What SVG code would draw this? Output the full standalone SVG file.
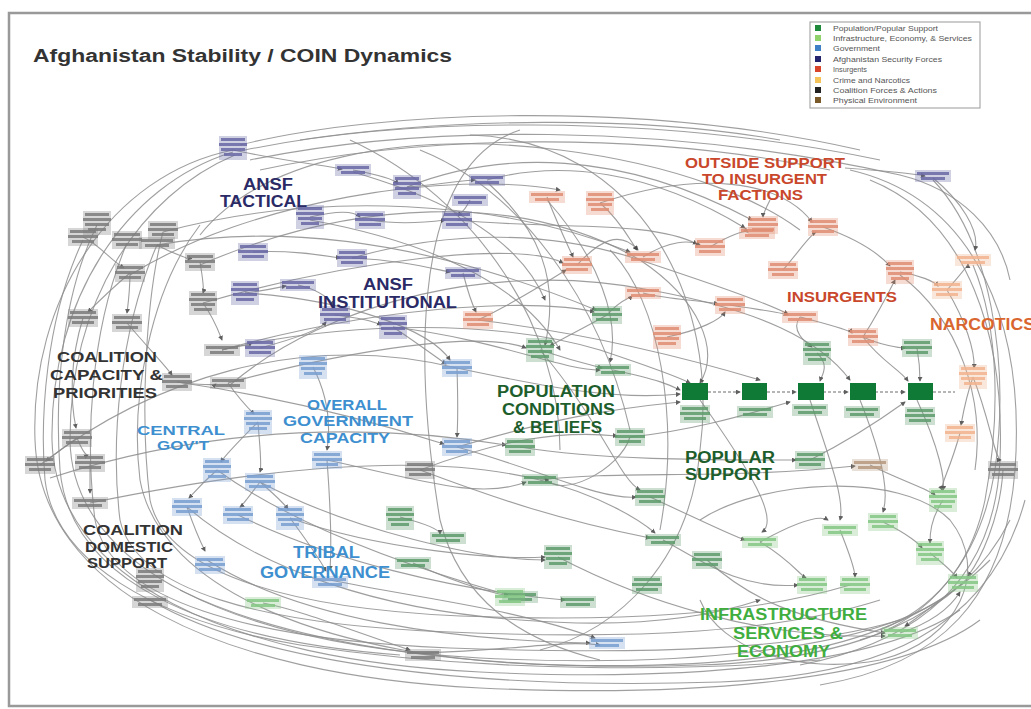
<svg xmlns="http://www.w3.org/2000/svg" xmlns:xlink="http://www.w3.org/1999/xlink" width="1031" height="709" viewBox="0 0 1031 709">
<style>
.lbl{font-family:"Liberation Sans",Arial,sans-serif;font-weight:bold}
.c path{fill:none;stroke:#8e8e8e;stroke-width:1.1;opacity:.85}
.c .d{stroke-dasharray:3 2;stroke:#555}
.co{fill:#7d7d7d}.an{fill:#6a6aa6}.gv{fill:#7a9fd0}.in{fill:#e08f74}.na{fill:#f2b48e}
.po{fill:#5f9c6c}.if{fill:#86c886}.ph{fill:#b89a80}.pb{fill:#0f7a36}
.node{opacity:.9}
.leg{font-family:"Liberation Sans",Arial,sans-serif;font-size:7px}
</style>
<defs>
<marker id="ah" viewBox="0 0 6 6" refX="5" refY="3" markerWidth="5" markerHeight="5" orient="auto" markerUnits="userSpaceOnUse"><path d="M0,0 L6,3 L0,6 z" fill="#444"/></marker>
<g id="b3"><rect x="-15" y="-9" width="30" height="18" opacity=".35"/><rect x="-13" y="-7" width="26" height="3"/><rect x="-15" y="-2" width="30" height="3"/><rect x="-11" y="3" width="22" height="3"/></g>
<g id="b2"><rect x="-18" y="-6" width="36" height="12" opacity=".35"/><rect x="-16" y="-4" width="32" height="3"/><rect x="-12" y="1" width="24" height="3"/></g>
<g id="b4"><rect x="-14" y="-12" width="28" height="24" opacity=".35"/><rect x="-12" y="-10" width="24" height="3"/><rect x="-14" y="-5" width="28" height="3"/><rect x="-12" y="0" width="24" height="3"/><rect x="-9" y="5" width="18" height="3"/></g>
</defs>
<rect width="1031" height="709" fill="#fff"/>
<rect x="9" y="13" width="1030" height="693" fill="none" stroke="#999" stroke-width="2.5"/>
<text class="lbl" x="33" y="62" font-size="18" textLength="419" lengthAdjust="spacingAndGlyphs" fill="#333">Afghanistan Stability / COIN Dynamics</text>

<g id="legend">
<rect x="810" y="22" width="170" height="86" fill="#fff" stroke="#aaa" stroke-width="1.2"/>
<g class="leg" fill="#555">
<text x="833" y="31" textLength="105" lengthAdjust="spacingAndGlyphs">Population/Popular Support</text>
<text x="833" y="41" textLength="139" lengthAdjust="spacingAndGlyphs">Infrastructure, Economy, &amp; Services</text>
<text x="833" y="51" textLength="47" lengthAdjust="spacingAndGlyphs">Government</text>
<text x="833" y="62" textLength="109" lengthAdjust="spacingAndGlyphs">Afghanistan Security Forces</text>
<text x="833" y="72" textLength="34" lengthAdjust="spacingAndGlyphs">Insurgents</text>
<text x="833" y="83" textLength="77" lengthAdjust="spacingAndGlyphs">Crime and Narcotics</text>
<text x="833" y="93" textLength="104" lengthAdjust="spacingAndGlyphs">Coalition Forces &amp; Actions</text>
<text x="833" y="103" textLength="84" lengthAdjust="spacingAndGlyphs">Physical Environment</text>
</g>
<rect x="815" y="25" width="6" height="6" fill="#1f8a3c"/>
<rect x="815" y="35" width="6" height="6" fill="#8fd16a"/>
<rect x="815" y="45" width="6" height="6" fill="#3f7fc6"/>
<rect x="815" y="56" width="6" height="6" fill="#23236e"/>
<rect x="815" y="66" width="6" height="6" fill="#d8452a"/>
<rect x="815" y="77" width="6" height="6" fill="#f4c35a"/>
<rect x="815" y="87" width="6" height="6" fill="#222"/>
<rect x="815" y="97" width="6" height="6" fill="#7a5a2a"/>
</g>

<g id="connectors" class="c">
<path d="M233,150 C110,175 30,300 35,440 C40,590 220,675 480,688 C700,698 900,680 980,620"/>
<path d="M233,152 C125,185 50,300 52,440 C55,580 230,660 480,672 C690,682 880,665 960,610"/>
<path d="M235,155 C140,195 70,300 70,440 C72,570 240,645 480,658 C680,668 860,650 940,600"/>
<path d="M97,225 C60,300 55,400 60,470 C70,580 200,640 400,655"/>
<path d="M83,240 C45,320 40,420 45,480 C55,560 150,620 300,645 C500,675 700,670 820,660"/>
<path d="M127,243 C90,330 85,440 95,520 C110,600 250,640 450,648 C650,655 800,650 900,620"/>
<path d="M157,245 C120,330 110,440 120,520 C135,590 260,625 450,632 C640,640 780,632 880,600"/>
<path d="M163,232 C145,300 140,420 150,500 C165,570 280,608 460,616 C620,622 750,615 850,585"/>
<path d="M200,225 C150,290 130,400 140,480 C160,590 330,660 560,665 C760,670 900,650 990,560"/>
<path d="M240,145 C380,110 640,100 860,150"/>
<path d="M245,150 C400,118 650,112 880,160"/>
<path d="M250,160 C420,125 660,122 900,175 C960,190 1000,230 1010,280"/>
<path d="M260,170 C420,135 640,130 830,170"/>
<path d="M300,140 C450,118 640,115 780,140"/>
<path d="M200,235 C260,160 400,130 560,150 C680,165 760,200 800,230"/>
<path d="M850,170 C980,200 1025,330 1015,470 C1005,600 940,665 820,685"/>
<path d="M870,180 C970,220 1005,340 1000,460 C995,570 930,640 800,665"/>
<path d="M933,180 C990,240 1010,360 995,470 C980,560 930,620 860,640"/>
<path d="M973,265 C1000,330 1000,420 985,500 C970,570 930,610 880,630"/>
<path d="M900,275 C960,320 985,400 975,470"/>
<path d="M470,135 C640,140 720,300 700,450 C690,560 620,630 540,650"/>
<path d="M520,130 C400,170 420,400 440,520 C460,600 520,640 600,660"/>
<path d="M700,520 C760,480 900,470 950,520 C990,570 960,640 880,660 C800,675 720,650 700,600"/>
<path d="M230,385 C330,300 500,260 650,290 C760,310 820,340 850,380" marker-end="url(#ah)"/>
<path d="M200,265 C350,200 520,190 640,260 C700,300 720,350 700,383" marker-end="url(#ah)"/>
<path d="M130,275 C250,200 450,170 560,190" marker-end="url(#ah)"/>
<path d="M222,350 C350,320 500,320 600,350 C660,370 680,378 690,383" marker-end="url(#ah)"/>
<path d="M310,220 C420,240 520,280 560,350" marker-end="url(#ah)"/>
<path d="M353,172 C450,200 520,240 545,300" marker-end="url(#ah)"/>
<path d="M487,182 C540,230 560,280 545,345" marker-end="url(#ah)"/>
<path d="M547,200 C600,260 620,320 610,362" marker-end="url(#ah)"/>
<path d="M217,470 C300,530 420,570 508,595" marker-end="url(#ah)"/>
<path d="M187,507 C260,570 380,610 520,620 C620,628 700,620 760,600" marker-end="url(#ah)"/>
<path d="M238,515 C330,560 450,590 565,600" marker-end="url(#ah)"/>
<path d="M290,518 C380,550 500,560 545,557" marker-end="url(#ah)"/>
<path d="M330,580 C430,600 520,610 595,638" marker-end="url(#ah)"/>
<path d="M207,560 C300,620 450,640 590,643" marker-end="url(#ah)"/>
<path d="M420,470 C500,500 560,520 650,538" marker-end="url(#ah)"/>
<path d="M457,447 C540,470 600,500 636,497" marker-end="url(#ah)"/>
<path d="M327,460 C420,480 480,500 526,482" marker-end="url(#ah)"/>
<path d="M260,482 C350,530 480,560 545,560" marker-end="url(#ah)"/>
<path d="M700,400 C750,470 780,520 762,532" marker-end="url(#ah)"/>
<path d="M810,400 C830,460 845,500 840,520" marker-end="url(#ah)"/>
<path d="M860,400 C880,450 890,490 883,512" marker-end="url(#ah)"/>
<path d="M917,400 C940,450 945,480 943,490" marker-end="url(#ah)"/>
<path d="M650,497 C700,520 730,535 745,540" marker-end="url(#ah)"/>
<path d="M760,542 C790,560 800,575 806,578" marker-end="url(#ah)"/>
<path d="M840,530 C850,555 855,570 855,577" marker-end="url(#ah)"/>
<path d="M883,522 C910,535 920,545 922,548" marker-end="url(#ah)"/>
<path d="M930,553 C945,565 955,575 957,578" marker-end="url(#ah)"/>
<path d="M663,540 C700,560 740,590 798,585" marker-end="url(#ah)"/>
<path d="M707,560 C750,600 800,620 885,633" marker-end="url(#ah)"/>
<path d="M558,557 C640,600 760,640 885,636" marker-end="url(#ah)"/>
<path d="M540,350 C600,420 620,480 640,490" marker-end="url(#ah)"/>
<path d="M613,370 C660,380 670,385 680,390" marker-end="url(#ah)"/>
<path d="M577,265 C600,240 620,230 638,250" marker-end="url(#ah)"/>
<path d="M643,257 C670,240 690,240 700,245" marker-end="url(#ah)"/>
<path d="M710,247 C730,235 745,230 748,232" marker-end="url(#ah)"/>
<path d="M643,293 C670,300 700,300 718,304" marker-end="url(#ah)"/>
<path d="M730,305 C760,310 780,312 788,315" marker-end="url(#ah)"/>
<path d="M800,317 C830,325 850,330 852,333" marker-end="url(#ah)"/>
<path d="M783,270 C800,250 810,235 816,232" marker-end="url(#ah)"/>
<path d="M667,337 C700,330 720,320 725,312" marker-end="url(#ah)"/>
<path d="M863,337 C880,310 890,290 895,280" marker-end="url(#ah)"/>
<path d="M900,272 C920,275 935,282 938,286" marker-end="url(#ah)"/>
<path d="M947,290 C960,275 968,265 968,264" marker-end="url(#ah)"/>
<path d="M600,203 C620,220 630,240 637,250" marker-end="url(#ah)"/>
<path d="M547,197 C560,230 570,250 573,257" marker-end="url(#ah)"/>
<path d="M478,320 C520,300 550,280 566,270" marker-end="url(#ah)"/>
<path d="M607,315 C620,300 630,298 632,296" marker-end="url(#ah)"/>
<path d="M863,337 C880,345 900,348 905,348" marker-end="url(#ah)"/>
<path d="M800,317 C790,330 805,342 812,347" marker-end="url(#ah)"/>
<path d="M973,377 C965,400 962,420 961,425" marker-end="url(#ah)"/>
<path d="M947,290 C965,320 975,350 974,368" marker-end="url(#ah)"/>
<path d="M607,315 C580,330 560,340 550,346" marker-end="url(#ah)"/>
<path d="M540,350 C570,360 590,365 602,368" marker-end="url(#ah)"/>
<path d="M817,353 C830,365 822,375 820,381" marker-end="url(#ah)"/>
<path d="M917,348 C920,365 920,375 920,381" marker-end="url(#ah)"/>
<path class="d" d="M708,392 L740,392" marker-end="url(#ah)"/>
<path class="d" d="M767,392 L796,392" marker-end="url(#ah)"/>
<path class="d" d="M823,392 L848,392" marker-end="url(#ah)"/>
<path class="d" d="M875,392 L905,392" marker-end="url(#ah)"/>
<path class="d" d="M933,392 L955,392"/>
<path d="M233,150 C280,160 320,165 342,169" marker-end="url(#ah)"/>
<path d="M353,170 C380,175 395,180 398,184" marker-end="url(#ah)"/>
<path d="M407,187 C440,185 460,180 475,180" marker-end="url(#ah)"/>
<path d="M310,217 C340,210 355,212 360,217" marker-end="url(#ah)"/>
<path d="M370,220 C400,225 430,222 445,220" marker-end="url(#ah)"/>
<path d="M253,252 C290,250 320,255 340,258" marker-end="url(#ah)"/>
<path d="M245,293 C270,290 280,287 286,286" marker-end="url(#ah)"/>
<path d="M298,285 C320,290 330,300 334,305" marker-end="url(#ah)"/>
<path d="M335,315 C360,318 375,322 381,325" marker-end="url(#ah)"/>
<path d="M260,348 C290,340 320,330 326,322" marker-end="url(#ah)"/>
<path d="M352,258 C400,260 430,268 450,272" marker-end="url(#ah)"/>
<path d="M463,273 C470,300 475,310 476,312" marker-end="url(#ah)"/>
<path d="M470,200 C465,210 460,215 459,212" marker-end="url(#ah)"/>
<path d="M393,327 C420,345 440,360 446,364" marker-end="url(#ah)"/>
<path d="M83,237 C100,245 110,260 124,268" marker-end="url(#ah)"/>
<path d="M157,245 C175,255 190,258 188,260" marker-end="url(#ah)"/>
<path d="M130,273 C110,290 95,305 88,312" marker-end="url(#ah)"/>
<path d="M130,273 C130,290 128,305 127,313" marker-end="url(#ah)"/>
<path d="M200,262 C203,280 204,290 203,293" marker-end="url(#ah)"/>
<path d="M203,303 C215,320 220,335 222,340" marker-end="url(#ah)"/>
<path d="M127,323 C150,350 165,365 172,375" marker-end="url(#ah)"/>
<path d="M177,382 C200,385 215,385 216,384" marker-end="url(#ah)"/>
<path d="M222,350 C240,345 250,345 250,346" marker-end="url(#ah)"/>
<path d="M77,438 C60,450 50,458 46,461" marker-end="url(#ah)"/>
<path d="M77,438 C82,450 86,456 88,455" marker-end="url(#ah)"/>
<path d="M90,463 C90,480 90,490 90,493" marker-end="url(#ah)"/>
<path d="M228,383 C240,400 250,410 254,414" marker-end="url(#ah)"/>
<path d="M83,318 C70,360 70,400 76,428" marker-end="url(#ah)"/>
<path d="M258,422 C240,440 225,455 221,462" marker-end="url(#ah)"/>
<path d="M258,422 C260,450 262,465 260,472" marker-end="url(#ah)"/>
<path d="M217,470 C200,485 192,495 189,498" marker-end="url(#ah)"/>
<path d="M260,482 C250,495 243,505 240,507" marker-end="url(#ah)"/>
<path d="M260,482 C275,495 285,505 288,509" marker-end="url(#ah)"/>
<path d="M187,507 C195,530 202,545 205,551" marker-end="url(#ah)"/>
<path d="M313,367 C330,400 330,430 327,450" marker-end="url(#ah)"/>
<path d="M457,368 C458,400 458,420 457,437" marker-end="url(#ah)"/>
<path d="M327,460 C330,500 332,540 330,570" marker-end="url(#ah)"/>
<path d="M290,518 C310,545 320,560 326,571" marker-end="url(#ah)"/>
<path d="M40,465 C150,380 300,330 457,368 C560,390 620,400 680,394" marker-end="url(#ah)"/>
<path d="M50,478 C200,430 350,420 506,445" marker-end="url(#ah)"/>
<path d="M90,503 C250,470 420,450 540,480 C600,495 640,520 655,533" marker-end="url(#ah)"/>
<path d="M228,383 C350,350 480,330 526,348" marker-end="url(#ah)"/>
<path d="M177,382 C300,400 400,430 444,444" marker-end="url(#ah)"/>
<path d="M157,245 C300,220 450,250 596,310" marker-end="url(#ah)"/>
<path d="M163,232 C320,190 500,200 630,252" marker-end="url(#ah)"/>
<path d="M203,303 C350,260 520,240 563,263" marker-end="url(#ah)"/>
<path d="M222,350 C400,300 550,300 594,312" marker-end="url(#ah)"/>
<path d="M457,220 C560,230 650,220 697,244" marker-end="url(#ah)"/>
<path d="M487,180 C560,160 650,170 745,228" marker-end="url(#ah)"/>
<path d="M407,187 C500,150 620,150 752,220" marker-end="url(#ah)"/>
<path d="M600,203 C700,170 780,180 812,222" marker-end="url(#ah)"/>
<path d="M457,447 C550,420 600,410 680,402" marker-end="url(#ah)"/>
<path d="M630,437 C700,430 760,410 790,402" marker-end="url(#ah)"/>
<path d="M520,447 C600,460 700,460 796,460" marker-end="url(#ah)"/>
<path d="M810,460 C850,440 880,420 905,402" marker-end="url(#ah)"/>
<path d="M540,480 C620,470 720,480 855,466" marker-end="url(#ah)"/>
<path d="M478,320 C560,330 660,350 760,380" marker-end="url(#ah)"/>
<path d="M245,293 C350,300 430,330 450,360" marker-end="url(#ah)"/>
<path d="M352,258 C450,230 550,230 640,260 C700,280 760,300 788,314" marker-end="url(#ah)"/>
<path d="M393,327 C500,340 560,370 600,370" marker-end="url(#ah)"/>
<path d="M933,178 C960,200 980,230 975,250" marker-end="url(#ah)"/>
<path d="M823,227 C860,240 880,255 890,266" marker-end="url(#ah)"/>
<path d="M863,337 C880,360 900,370 908,381" marker-end="url(#ah)"/>
<path d="M973,377 C990,420 995,460 1001,460" marker-end="url(#ah)"/>
<path d="M960,433 C950,470 940,485 942,490" marker-end="url(#ah)"/>
<path d="M1003,470 C1000,520 980,560 968,576" marker-end="url(#ah)"/>
<path d="M900,633 C940,620 955,600 960,592" marker-end="url(#ah)"/>
<path d="M420,470 C500,440 560,430 617,436" marker-end="url(#ah)"/>
<path d="M845,168 C900,172 920,175 925,176" marker-end="url(#ah)"/>
<path d="M770,200 C765,210 763,215 763,217" marker-end="url(#ah)"/>
<path d="M180,590 C300,650 500,672 700,665 C850,660 960,620 1010,520"/>
<path d="M150,600 C260,665 480,690 720,682 C880,676 990,630 1025,500"/>
<path d="M423,653 C520,650 560,640 600,645" marker-end="url(#ah)"/>
<path d="M263,603 C300,610 350,630 410,650" marker-end="url(#ah)"/>
<path d="M413,563 C450,580 480,590 508,596" marker-end="url(#ah)"/>
<path d="M400,517 C430,525 440,530 440,534" marker-end="url(#ah)"/>
<path d="M630,437 C620,470 560,500 545,478" marker-end="url(#ah)"/>
<path d="M870,465 C900,480 930,490 935,495" marker-end="url(#ah)"/>
<path d="M943,500 C930,520 930,535 930,543" marker-end="url(#ah)"/>
<path d="M963,583 C940,600 915,620 905,626" marker-end="url(#ah)"/>
<path d="M760,542 C800,520 820,515 828,520" marker-end="url(#ah)"/>
<path d="M610,250 C660,300 680,420 660,530" />
<path d="M420,150 C520,190 600,300 630,430" />
<path d="M350,140 C480,200 560,330 560,450" />
</g>

<g id="nodes">
<g id="co1" class="node co" transform="translate(83,237)"><use href="#b3"/></g>
<g id="co2" class="node co" transform="translate(127,240)"><use href="#b3"/></g>
<g id="co3" class="node co" transform="translate(157,243)"><use href="#b2"/></g>
<g id="co4" class="node co" transform="translate(200,262)"><use href="#b3"/></g>
<g id="co5" class="node co" transform="translate(130,273)"><use href="#b3"/></g>
<g id="co6" class="node co" transform="translate(83,318)"><use href="#b3"/></g>
<g id="co7" class="node co" transform="translate(127,323)"><use href="#b3"/></g>
<g id="co8" class="node co" transform="translate(203,303)"><use href="#b4"/></g>
<g id="co9" class="node co" transform="translate(222,350)"><use href="#b2"/></g>
<g id="co10" class="node co" transform="translate(177,382)"><use href="#b3"/></g>
<g id="co11" class="node co" transform="translate(228,383)"><use href="#b2"/></g>
<g id="co12" class="node co" transform="translate(77,438)"><use href="#b3"/></g>
<g id="co13" class="node co" transform="translate(40,465)"><use href="#b3"/></g>
<g id="co14" class="node co" transform="translate(90,463)"><use href="#b3"/></g>
<g id="co15" class="node co" transform="translate(90,503)"><use href="#b2"/></g>
<g id="co16" class="node co" transform="translate(150,580)"><use href="#b4"/></g>
<g id="co17" class="node co" transform="translate(150,602)"><use href="#b2"/></g>
<g id="co18" class="node co" transform="translate(97,223)"><use href="#b4"/></g>
<g id="co19" class="node co" transform="translate(163,230)"><use href="#b3"/></g>
<g id="co20" class="node co" transform="translate(420,470)"><use href="#b3"/></g>
<g id="co21" class="node co" transform="translate(423,655)"><use href="#b2"/></g>
<g id="co22" class="node co" transform="translate(1003,470)"><use href="#b3"/></g>
<g id="an1" class="node an" transform="translate(233,148)"><use href="#b4"/></g>
<g id="an2" class="node an" transform="translate(353,170)"><use href="#b2"/></g>
<g id="an3" class="node an" transform="translate(407,187)"><use href="#b4"/></g>
<g id="an4" class="node an" transform="translate(487,180)"><use href="#b2"/></g>
<g id="an5" class="node an" transform="translate(470,200)"><use href="#b2"/></g>
<g id="an6" class="node an" transform="translate(310,217)"><use href="#b4"/></g>
<g id="an7" class="node an" transform="translate(370,220)"><use href="#b3"/></g>
<g id="an8" class="node an" transform="translate(457,220)"><use href="#b3"/></g>
<g id="an9" class="node an" transform="translate(253,252)"><use href="#b3"/></g>
<g id="an10" class="node an" transform="translate(245,293)"><use href="#b4"/></g>
<g id="an11" class="node an" transform="translate(298,285)"><use href="#b2"/></g>
<g id="an12" class="node an" transform="translate(352,258)"><use href="#b3"/></g>
<g id="an13" class="node an" transform="translate(463,273)"><use href="#b2"/></g>
<g id="an14" class="node an" transform="translate(335,315)"><use href="#b3"/></g>
<g id="an15" class="node an" transform="translate(393,327)"><use href="#b4"/></g>
<g id="an16" class="node an" transform="translate(260,348)"><use href="#b3"/></g>
<g id="an17" class="node an" transform="translate(933,176)"><use href="#b2"/></g>
<g id="gv1" class="node gv" transform="translate(313,367)"><use href="#b4"/></g>
<g id="gv2" class="node gv" transform="translate(258,422)"><use href="#b4"/></g>
<g id="gv3" class="node gv" transform="translate(457,368)"><use href="#b3"/></g>
<g id="gv4" class="node gv" transform="translate(457,447)"><use href="#b3"/></g>
<g id="gv5" class="node gv" transform="translate(327,460)"><use href="#b3"/></g>
<g id="gv6" class="node gv" transform="translate(217,470)"><use href="#b4"/></g>
<g id="gv7" class="node gv" transform="translate(260,482)"><use href="#b3"/></g>
<g id="gv8" class="node gv" transform="translate(187,507)"><use href="#b3"/></g>
<g id="gv9" class="node gv" transform="translate(238,515)"><use href="#b3"/></g>
<g id="gv10" class="node gv" transform="translate(290,518)"><use href="#b4"/></g>
<g id="gv11" class="node gv" transform="translate(210,565)"><use href="#b3"/></g>
<g id="gv12" class="node gv" transform="translate(330,582)"><use href="#b2"/></g>
<g id="gv13" class="node gv" transform="translate(607,643)"><use href="#b2"/></g>
<g id="in1" class="node in" transform="translate(577,265)"><use href="#b3"/></g>
<g id="in2" class="node in" transform="translate(643,257)"><use href="#b2"/></g>
<g id="in3" class="node in" transform="translate(710,247)"><use href="#b3"/></g>
<g id="in4" class="node in" transform="translate(757,233)"><use href="#b2"/></g>
<g id="in5" class="node in" transform="translate(783,270)"><use href="#b3"/></g>
<g id="in6" class="node in" transform="translate(643,293)"><use href="#b2"/></g>
<g id="in7" class="node in" transform="translate(730,305)"><use href="#b3"/></g>
<g id="in8" class="node in" transform="translate(667,337)"><use href="#b4"/></g>
<g id="in9" class="node in" transform="translate(800,317)"><use href="#b2"/></g>
<g id="in10" class="node in" transform="translate(863,337)"><use href="#b3"/></g>
<g id="in11" class="node in" transform="translate(900,272)"><use href="#b4"/></g>
<g id="in12" class="node in" transform="translate(547,197)"><use href="#b2"/></g>
<g id="in13" class="node in" transform="translate(600,203)"><use href="#b4"/></g>
<g id="in14" class="node in" transform="translate(763,225)"><use href="#b3"/></g>
<g id="in15" class="node in" transform="translate(823,227)"><use href="#b3"/></g>
<g id="in16" class="node in" transform="translate(478,320)"><use href="#b3"/></g>
<g id="na1" class="node na" transform="translate(947,290)"><use href="#b3"/></g>
<g id="na2" class="node na" transform="translate(973,260)"><use href="#b2"/></g>
<g id="na3" class="node na" transform="translate(973,377)"><use href="#b4"/></g>
<g id="na4" class="node na" transform="translate(960,433)"><use href="#b3"/></g>
<g id="po1" class="node po" transform="translate(607,315)"><use href="#b3"/></g>
<g id="po2" class="node po" transform="translate(540,350)"><use href="#b4"/></g>
<g id="po3" class="node po" transform="translate(613,370)"><use href="#b2"/></g>
<g id="po4" class="node po" transform="translate(817,353)"><use href="#b4"/></g>
<g id="po5" class="node po" transform="translate(917,348)"><use href="#b3"/></g>
<g id="po6" class="node po" transform="translate(630,437)"><use href="#b3"/></g>
<g id="po7" class="node po" transform="translate(520,447)"><use href="#b3"/></g>
<g id="po8" class="node po" transform="translate(810,460)"><use href="#b3"/></g>
<g id="po9" class="node po" transform="translate(540,480)"><use href="#b2"/></g>
<g id="po10" class="node po" transform="translate(650,497)"><use href="#b3"/></g>
<g id="po11" class="node po" transform="translate(558,557)"><use href="#b4"/></g>
<g id="po12" class="node po" transform="translate(663,540)"><use href="#b2"/></g>
<g id="po13" class="node po" transform="translate(707,560)"><use href="#b3"/></g>
<g id="po14" class="node po" transform="translate(647,585)"><use href="#b3"/></g>
<g id="po15" class="node po" transform="translate(520,597)"><use href="#b2"/></g>
<g id="po16" class="node po" transform="translate(578,602)"><use href="#b2"/></g>
<g id="po17" class="node po" transform="translate(400,518)"><use href="#b4"/></g>
<g id="po18" class="node po" transform="translate(448,538)"><use href="#b2"/></g>
<g id="po19" class="node po" transform="translate(413,563)"><use href="#b2"/></g>
<g id="po20" class="node po" transform="translate(695,414)"><use href="#b3"/></g>
<g id="po21" class="node po" transform="translate(755,412)"><use href="#b2"/></g>
<g id="po22" class="node po" transform="translate(810,410)"><use href="#b2"/></g>
<g id="po23" class="node po" transform="translate(862,412)"><use href="#b2"/></g>
<g id="po24" class="node po" transform="translate(920,416)"><use href="#b3"/></g>
<g id="if1" class="node if" transform="translate(760,542)"><use href="#b2"/></g>
<g id="if2" class="node if" transform="translate(840,530)"><use href="#b2"/></g>
<g id="if3" class="node if" transform="translate(883,522)"><use href="#b3"/></g>
<g id="if4" class="node if" transform="translate(812,585)"><use href="#b3"/></g>
<g id="if5" class="node if" transform="translate(855,585)"><use href="#b3"/></g>
<g id="if6" class="node if" transform="translate(930,553)"><use href="#b4"/></g>
<g id="if7" class="node if" transform="translate(943,500)"><use href="#b4"/></g>
<g id="if8" class="node if" transform="translate(963,583)"><use href="#b3"/></g>
<g id="if9" class="node if" transform="translate(900,633)"><use href="#b2"/></g>
<g id="if10" class="node if" transform="translate(263,603)"><use href="#b2"/></g>
<g id="if11" class="node if" transform="translate(510,597)"><use href="#b3"/></g>
<g id="ph1" class="node ph" transform="translate(870,465)"><use href="#b2"/></g>
<g id="pb1" class="pb"><rect x="682" y="383" width="26" height="17"/></g>
<g id="pb2" class="pb"><rect x="742" y="383" width="25" height="17"/></g>
<g id="pb3" class="pb"><rect x="798" y="383" width="26" height="17"/></g>
<g id="pb4" class="pb"><rect x="850" y="383" width="26" height="17"/></g>
<g id="pb5" class="pb"><rect x="908" y="383" width="25" height="17"/></g>
</g>

<g id="labels" class="lbl">
<g fill="#2a2a66" font-size="16">
<text x="243" y="190" textLength="50" lengthAdjust="spacingAndGlyphs">ANSF</text>
<text x="220" y="207" textLength="87" lengthAdjust="spacingAndGlyphs">TACTICAL</text>
<text x="363" y="290" textLength="50" lengthAdjust="spacingAndGlyphs">ANSF</text>
<text x="318" y="308" textLength="139" lengthAdjust="spacingAndGlyphs">INSTITUTIONAL</text>
</g>
<g fill="#c9472b" font-size="15">
<text x="685" y="168" textLength="160" lengthAdjust="spacingAndGlyphs">OUTSIDE SUPPORT</text>
<text x="702" y="184" textLength="125" lengthAdjust="spacingAndGlyphs">TO INSURGENT</text>
<text x="718" y="200" textLength="85" lengthAdjust="spacingAndGlyphs">FACTIONS</text>
<text x="787" y="302" textLength="110" lengthAdjust="spacingAndGlyphs">INSURGENTS</text>
</g>
<text x="930" y="330" font-size="16" fill="#d9652f" textLength="105" lengthAdjust="spacingAndGlyphs">NARCOTICS</text>
<g fill="#333" font-size="15">
<text x="57" y="362" textLength="100" lengthAdjust="spacingAndGlyphs">COALITION</text>
<text x="50" y="380" textLength="113" lengthAdjust="spacingAndGlyphs">CAPACITY &amp;</text>
<text x="53" y="398" textLength="104" lengthAdjust="spacingAndGlyphs">PRIORITIES</text>
</g>
<g fill="#333" font-size="14">
<text x="83" y="535" textLength="100" lengthAdjust="spacingAndGlyphs">COALITION</text>
<text x="85" y="552" textLength="88" lengthAdjust="spacingAndGlyphs">DOMESTIC</text>
<text x="87" y="568" textLength="80" lengthAdjust="spacingAndGlyphs">SUPPORT</text>
</g>
<g fill="#3d8fcf" font-size="14">
<text x="307" y="410" textLength="80" lengthAdjust="spacingAndGlyphs">OVERALL</text>
<text x="283" y="426" textLength="130" lengthAdjust="spacingAndGlyphs">GOVERNMENT</text>
<text x="300" y="443" textLength="90" lengthAdjust="spacingAndGlyphs">CAPACITY</text>
</g>
<g fill="#3d8fcf" font-size="13">
<text x="137" y="435" textLength="88" lengthAdjust="spacingAndGlyphs">CENTRAL</text>
<text x="157" y="450" textLength="52" lengthAdjust="spacingAndGlyphs">GOV'T</text>
</g>
<g fill="#3d8fcf" font-size="16">
<text x="293" y="558" textLength="67" lengthAdjust="spacingAndGlyphs">TRIBAL</text>
<text x="260" y="578" textLength="130" lengthAdjust="spacingAndGlyphs">GOVERNANCE</text>
</g>
<g fill="#1d5e2c" font-size="16">
<text x="497" y="397" textLength="118" lengthAdjust="spacingAndGlyphs">POPULATION</text>
<text x="502" y="415" textLength="113" lengthAdjust="spacingAndGlyphs">CONDITIONS</text>
<text x="513" y="433" textLength="89" lengthAdjust="spacingAndGlyphs">&amp; BELIEFS</text>
<text x="685" y="463" textLength="90" lengthAdjust="spacingAndGlyphs">POPULAR</text>
<text x="685" y="480" textLength="87" lengthAdjust="spacingAndGlyphs">SUPPORT</text>
</g>
<g fill="#3fae3f" font-size="16">
<text x="700" y="620" textLength="167" lengthAdjust="spacingAndGlyphs">INFRASTRUCTURE</text>
<text x="733" y="639" textLength="110" lengthAdjust="spacingAndGlyphs">SERVICES &amp;</text>
<text x="737" y="657" textLength="93" lengthAdjust="spacingAndGlyphs">ECONOMY</text>
</g>
</g>
</svg>
